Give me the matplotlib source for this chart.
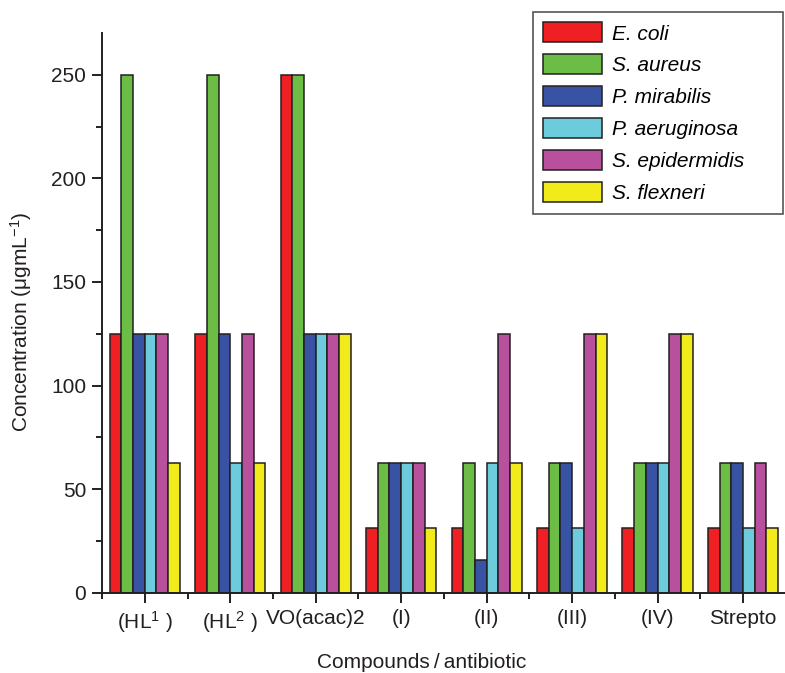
import matplotlib
matplotlib.use("Agg")
import matplotlib.pyplot as plt
import numpy as np

plt.rcParams['font.family'] = ['Liberation Sans', 'DejaVu Sans']
plt.rcParams['mathtext.fontset'] = 'custom'
plt.rcParams['mathtext.rm'] = 'Liberation Sans'
plt.rcParams['mathtext.it'] = 'Liberation Sans:italic'

compounds = ["(HL$^{1}$ )", "(HL$^{2}$ )", "VO(acac)2", "(I)", "(II)", "(III)", "(IV)", "Strepto"]
organisms = ["E. coli", "S. aureus", "P. mirabilis", "P. aeruginosa", "S. epidermidis", "S. flexneri"]
e_coli = [125, 125, 250, 31.25, 31.25, 31.25, 31.25, 31.25]
s_aureus = [250, 250, 250, 62.5, 62.5, 62.5, 62.5, 62.5]
p_mirabilis = [125, 125, 125, 62.5, 15.6, 62.5, 62.5, 62.5]
p_aeruginosa = [125, 62.5, 125, 62.5, 62.5, 31.25, 62.5, 31.25]
s_epidermidis = [125, 125, 125, 62.5, 125, 125, 125, 62.5]
s_flexneri = [62.5, 62.5, 125, 31.25, 62.5, 125, 125, 31.25]
series = [e_coli, s_aureus, p_mirabilis, p_aeruginosa, s_epidermidis, s_flexneri]
colors = ["#EE2024", "#6BBD45", "#3953A4", "#6CCCDC", "#B8509E", "#F1EB1B"]

fig = plt.figure(figsize=(7.85, 6.73), dpi=100)
ax = fig.add_axes([0.130, 0.1193, 0.871, 0.8312])

x = np.arange(len(compounds))
w = 0.137
handles = []
for i, (vals, c, lab) in enumerate(zip(series, colors, organisms)):
    b = ax.bar(x + (i - 2.5) * w, vals, width=w, color=c, edgecolor="#231F20",
               linewidth=1.1, label=lab, zorder=2)
    handles.append(b)

ax.set_xlim(-0.5, 7.5)
ax.set_ylim(0, 270)
for s in ["top", "right"]:
    ax.spines[s].set_visible(False)
for s in ["left", "bottom"]:
    ax.spines[s].set_linewidth(1.4)
    ax.spines[s].set_color("#231F20")

ax.set_xticks(x)
ax.set_xticklabels(compounds)
ax.set_xticks(np.arange(-0.5, 7.6, 1.0), minor=True)
ax.set_yticks([0, 50, 100, 150, 200, 250])
ax.set_yticks([25, 75, 125, 175, 225], minor=True)
ax.tick_params(axis="both", which="major", length=7.5, width=1.4, color="#231F20",
               labelsize=15, labelcolor="#231F20", pad=4)
ax.tick_params(axis="both", which="minor", length=4, width=1.4, color="#231F20")

ax.set_xlabel("Compounds\u2009/\u2009antibiotic", fontsize=15, color="#231F20")
ax.set_ylabel("Concentration (\u03bcgmL$^{-1}$)", fontsize=15, color="#231F20")
ax.xaxis.set_label_coords(0.468, -0.108)
ax.yaxis.set_label_coords(-0.100, 0.484)

leg = fig.legend(handles=handles, labels=organisms, loc="upper left",
                 bbox_to_anchor=(533 / 785, (673 - 217) / 673, 250 / 785, 205 / 673),
                 mode="expand",
                 prop={"style": "italic", "size": 15},
                 handlelength=2.8, handleheight=1.1, labelspacing=0.52,
                 handletextpad=0.5, borderpad=0.5, borderaxespad=0,
                 fancybox=False, framealpha=1)
leg.get_frame().set_edgecolor("#555555")
leg.get_frame().set_linewidth(1.2)

fig.savefig("out.png", dpi=100)
